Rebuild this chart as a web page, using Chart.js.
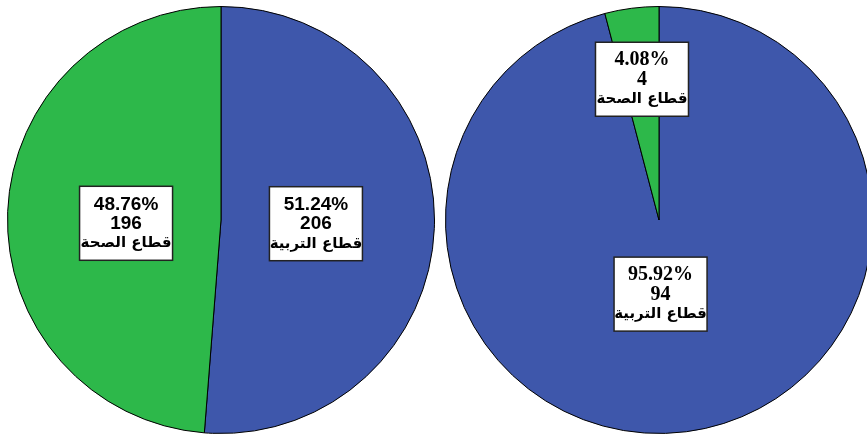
<!DOCTYPE html>
<html>
<head>
<meta charset="utf-8">
<script src="https://cdn.jsdelivr.net/npm/chart.js@4"></script>
<style>
  html, body { margin: 0; padding: 0; background: #fff; overflow: hidden; }
  #wrap { position: relative; width: 867px; height: 437px; overflow: hidden; }
  .pie { position: absolute; top: 6px; width: 428px; height: 428px; }
  #pieA { left: 7px; }
  #pieB { left: 445px; }
</style>
</head>
<body>
<div id="wrap">
  <div class="pie" id="pieA"><canvas id="chartA" width="428" height="428"></canvas></div>
  <div class="pie" id="pieB"><canvas id="chartB" width="428" height="428"></canvas></div>
</div>
<script>
// sectors and counts for the two pies
const categories = ["قطاع التربية", "قطاع الصحة"];
const countsA = [206, 196];
const countsB = [94, 4];
const sliceColors = ["#3e57ab", "#2db84a"];

// draws a white boxed label (percent / count / name) inside each slice
const boxLabels = {
  id: "boxLabels",
  afterDatasetsDraw(chart, args, opts) {
    const ctx = chart.ctx;
    const ds = chart.data.datasets[0];
    const total = ds.data.reduce((a, b) => a + b, 0);
    const meta = chart.getDatasetMeta(0);
    meta.data.forEach((arc, i) => {
      const mid = (arc.startAngle + arc.endAngle) / 2;
      const r = arc.outerRadius * opts.dist[i];
      const cx = arc.x + Math.cos(mid) * r + (opts.dx ? opts.dx[i] : 0);
      const cy = arc.y + Math.sin(mid) * r + (opts.dy ? opts.dy[i] : 0);
      const lines = [
        (ds.data[i] / total * 100).toFixed(2) + "%",
        String(ds.data[i]),
        chart.data.labels[i]
      ];
      const w = 93, h = 74;
      ctx.save();
      ctx.fillStyle = "#fff";
      ctx.fillRect(cx - w / 2, cy - h / 2, w, h);
      ctx.strokeStyle = "#222";
      ctx.lineWidth = 1.5;
      ctx.strokeRect(cx - w / 2, cy - h / 2, w, h);
      ctx.fillStyle = "#000";
      ctx.textAlign = "center";
      ctx.textBaseline = "middle";
      lines.forEach((t, k) => {
        ctx.font = k < 2 ? opts.font : opts.arabicFont;
        ctx.fillText(t, cx, cy - 19 + k * 19.5);
      });
      ctx.restore();
    });
  }
};

function makePie(id, counts, labelOpts) {
  return new Chart(document.getElementById(id), {
    type: "pie",
    data: {
      labels: categories,
      datasets: [{
        data: counts,
        backgroundColor: sliceColors,
        borderColor: "#000",
        borderWidth: 1
      }]
    },
    options: {
      responsive: false,
      animation: false,
      layout: { padding: 0 },
      plugins: {
        legend: { display: false },
        tooltip: { enabled: false },
        boxLabels: labelOpts
      }
    },
    plugins: [boxLabels]
  });
}

makePie("chartA", countsA, {
  dist: [0.445, 0.445],
  dy: [0, 7],
  font: "bold 19px 'Liberation Sans', Arial, sans-serif",
  arabicFont: "bold 15px 'DejaVu Sans', sans-serif"
});
makePie("chartB", countsB, {
  dist: [0.35, 0.66],
  dx: [-8, 1],
  dy: [0, -1],
  font: "bold 20px 'Liberation Serif', 'Times New Roman', serif",
  arabicFont: "bold 15px 'DejaVu Sans', sans-serif"
});
</script>
</body>
</html>
